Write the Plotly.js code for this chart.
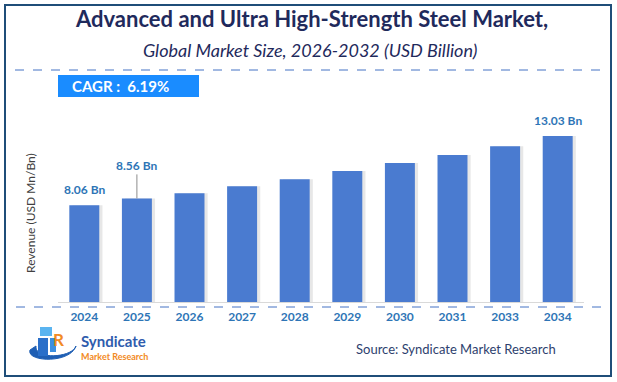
<!DOCTYPE html>
<html>
<head>
<meta charset="utf-8">
<script src="https://cdn.plot.ly/plotly-3.0.1.min.js"></script>
<style>html,body{margin:0;padding:0;background:#fff;}#chart{width:617px;height:382px;}</style>
</head>
<body>
<div id="chart"></div>
<script>
const years = ["2024","2025","2026","2027","2028","2029","2030","2031","2033","2034"];
const values = [8.06, 8.56, 8.92, 9.43, 9.93, 10.52, 11.10, 11.67, 12.30, 13.03];
const labelYears = ["2024","2025","2034"];
const labelTexts = ["8.06 Bn","8.56 Bn","13.03 Bn"];
const titleText = "Advanced and Ultra High-Strength Steel Market,";
const subtitleText = "Global Market Size, 2026-2032 (USD Billion)";
const cagrText = "CAGR :&nbsp; 6.19%";
const yTitle = "Revenue (USD Mn/Bn)";
const sourceText = "Source: Syndicate Market Research";

const W = 617, H = 382;
const px = x => x / W;
const py = y => 1 - y / H;
const FONT = "Lato, 'Open Sans', sans-serif";
const barW = 0.57;

const shadow = {
  type: 'bar', x: years, y: values, width: barW, offset: -barW/2 + 0.06,
  marker: {color: 'rgba(120,120,120,0.18)', line: {width: 0}},
  hoverinfo: 'skip', showlegend: false
};
const bars = {
  type: 'bar', x: years, y: values, width: barW, offset: -barW/2,
  marker: {color: '#4a7bd0', line: {width: 0}},
  showlegend: false
};

function paperText(text, x, y, font, extra) {
  return Object.assign({text: text, x: px(x), y: py(y), xref: 'paper', yref: 'paper',
    xanchor: 'center', yanchor: 'middle', showarrow: false, font: font}, extra || {});
}

const annotations = [
  paperText(titleText, 311, 19, {family: FONT, size: 22, color: '#1f2a5c', weight: 'bold'}),
  paperText('<i>' + subtitleText + '</i>', 310, 50, {family: FONT, size: 18, color: '#1f2a5c'}),
  paperText('<b>' + cagrText + '</b>', 70, 86, {family: FONT, size: 15, color: '#ffffff'}, {xanchor: 'left'}),
  paperText(yTitle, 30, 213, {family: FONT, size: 12, color: '#404040'}, {textangle: -90}),
  paperText(sourceText, 456, 349, {family: FONT, size: 13, color: '#2e3f6e'}),
  paperText('<b>Syndicate</b>', 79, 341, {family: FONT, size: 15, color: '#2f5cad'}, {xanchor: 'left'}),
  paperText('<b>Market Research</b>', 79, 356, {family: FONT, size: 9, color: '#f28a24'}, {xanchor: 'left'}),
  paperText('<b>R</b>', 58, 339, {family: FONT, size: 17, color: '#f28a24'})
];

const labelStyle = {family: FONT, size: 12, color: '#2e75b6', weight: 'bold'};
labelYears.forEach((yr, i) => {
  const idx = years.indexOf(yr);
  const v = values[idx];
  if (yr === "2025") {
    annotations.push({text: labelTexts[i], x: idx, y: v, xref: 'x', yref: 'y', showarrow: true,
      arrowhead: 0, arrowwidth: 1, arrowcolor: '#8c8c8c', ax: 0, ay: -33, font: labelStyle});
  } else {
    annotations.push({text: labelTexts[i], x: idx, y: v, xref: 'x', yref: 'y', showarrow: false,
      xanchor: 'center', yanchor: 'bottom', yshift: 6, font: labelStyle});
  }
});

const shapes = [
  {type: 'rect', xref: 'paper', yref: 'paper', x0: px(5), x1: px(611), y0: py(5), y1: py(376),
   line: {color: '#1f4e79', width: 2}, fillcolor: 'rgba(0,0,0,0)'},
  {type: 'line', xref: 'paper', yref: 'paper', x0: px(15), x1: px(600), y0: py(70), y1: py(70),
   line: {color: '#4472c4', width: 1, dash: 'dash'}},
  {type: 'line', xref: 'paper', yref: 'paper', x0: px(16), x1: px(601), y0: py(307), y1: py(307),
   line: {color: '#4472c4', width: 1, dash: 'dash'}},
  {type: 'rect', xref: 'paper', yref: 'paper', x0: px(58), x1: px(199), y0: py(75), y1: py(97),
   line: {width: 0}, fillcolor: '#1a8cff'},
  {type: 'path', xref: 'paper', yref: 'paper',
   path: `M ${px(30)},${py(350)} C ${px(26)},${py(362)} ${px(70)},${py(364)} ${px(76)},${py(346)} C ${px(72)},${py(358)} ${px(34)},${py(360)} ${px(36)},${py(346)} Z`,
   line: {color: '#1f5fb4', width: 1}, fillcolor: '#1f5fb4'},
  {type: 'rect', xref: 'paper', yref: 'paper', x0: px(38), x1: px(48), y0: py(338), y1: py(356),
   line: {width: 0}, fillcolor: '#2a6fc9'},
  {type: 'rect', xref: 'paper', yref: 'paper', x0: px(40), x1: px(52), y0: py(327), y1: py(336),
   line: {width: 0}, fillcolor: '#5ab4f0'},
  {type: 'rect', xref: 'paper', yref: 'paper', x0: px(50), x1: px(56), y0: py(338), y1: py(352),
   line: {width: 0}, fillcolor: '#3d8fe0'}
];

const layout = {
  width: W, height: H,
  margin: {l: 0, r: 0, t: 0, b: 0},
  paper_bgcolor: '#ffffff', plot_bgcolor: '#ffffff',
  barmode: 'overlay',
  xaxis: {
    domain: [px(58), px(584)], type: 'category', range: [-0.5, years.length - 0.5],
    autorange: false,
    showline: true, linecolor: '#d9d9d9', linewidth: 1,
    showgrid: false, zeroline: false, ticks: '',
    tickfont: {family: FONT, size: 12, color: '#2e75b6', weight: 'bold'},
    ticklabelstandoff: 4
  },
  yaxis: {
    domain: [1 - 302/H, 1 - 110/H], range: [1.126, 14.9], autorange: false,
    visible: false, showgrid: false, zeroline: false
  },
  annotations: annotations,
  shapes: shapes
};

Plotly.newPlot('chart', [shadow, bars], layout, {staticPlot: true, displayModeBar: false});
</script>
</body>
</html>
